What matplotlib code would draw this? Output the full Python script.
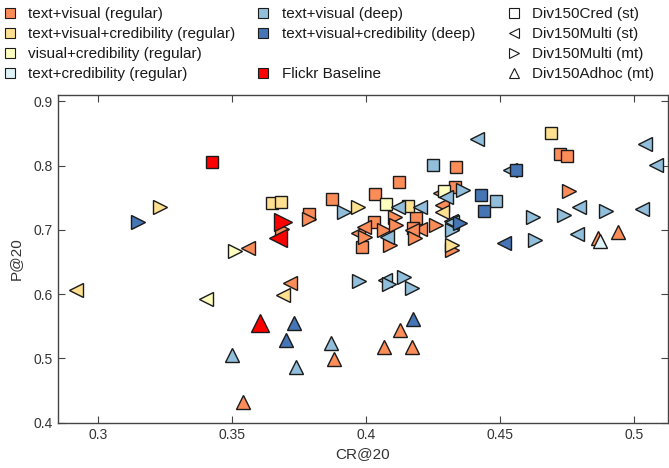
import matplotlib
matplotlib.use("Agg")
import matplotlib.pyplot as plt
from matplotlib.lines import Line2D

plt.rcParams['font.family'] = ['Liberation Sans', 'DejaVu Sans']

# ---- data: (CR@20, P@20, run marker) per configuration ----
# markers: 's' Div150Cred (st), '<' Div150Multi (st), '>' Div150Multi (mt), '^' Div150Adhoc (mt)
tv_reg_cr = [0.3786, 0.3872, 0.4033, 0.4123, 0.4030, 0.3985, 0.4187, 0.4176, 0.4334, 0.4330, 0.4725, 0.4748,
             0.3560, 0.3718, 0.4202, 0.4274, 0.4282, 0.3970, 0.3992, 0.4172,
             0.3685, 0.3786, 0.3996, 0.4067, 0.4090, 0.4108, 0.4112, 0.4184, 0.4259, 0.4322, 0.4755,
             0.3542, 0.3880, 0.4067, 0.4127, 0.4172, 0.4864, 0.4939]
tv_reg_p = [0.7246, 0.7479, 0.7557, 0.7743, 0.7121, 0.6733, 0.7183, 0.7028, 0.7977, 0.7665, 0.8178, 0.8148,
            0.6717, 0.6173, 0.7012, 0.7572, 0.7386, 0.6950, 0.7040, 0.6997,
            0.7012, 0.7168, 0.6888, 0.6997, 0.6764, 0.7199, 0.7075, 0.6873, 0.7075, 0.6686, 0.7603,
            0.4322, 0.4990, 0.5177, 0.5442, 0.5177, 0.6873, 0.6966]
tv_reg_run = ['s'] * 12 + ['<'] * 8 + ['>'] * 11 + ['^'] * 7

tvc_reg_cr = [0.3651, 0.3681, 0.4157, 0.4691, 0.2919, 0.3692, 0.4282, 0.3230, 0.3970, 0.4322]
tvc_reg_p = [0.7417, 0.7432, 0.7370, 0.8505, 0.6064, 0.5986, 0.7277, 0.7355, 0.7355, 0.6764]
tvc_reg_run = ['s', 's', 's', 's', '<', '<', '<', '>', '>', '>']

vc_reg_cr = [0.4075, 0.4289, 0.3403, 0.3512]
vc_reg_p = [0.7401, 0.7603, 0.5924, 0.6671]
vc_reg_run = ['s', 's', '<', '>']

tc_reg_cr = [0.4871]
tc_reg_p = [0.6826]
tc_reg_run = ['^']

tv_deep_cr = [0.4251, 0.4484,
              0.4071, 0.4413, 0.4537, 0.5040, 0.5081, 0.4793, 0.5029, 0.4785, 0.4120, 0.4202, 0.4078, 0.4300,
              0.4315, 0.4322,
              0.3917, 0.4322, 0.4360, 0.4142, 0.4172, 0.3973, 0.4086, 0.4623, 0.4630, 0.4739, 0.4894,
              0.3501, 0.3868, 0.3737]
tv_deep_p = [0.8008, 0.7448,
             0.6219, 0.8412, 0.7930, 0.8334, 0.8008, 0.7355, 0.7323, 0.6935, 0.7355, 0.7355, 0.6888, 0.7510,
             0.7137, 0.7120,
             0.7277, 0.6997, 0.7618, 0.6266, 0.6095, 0.6204, 0.6157, 0.7199, 0.6842, 0.7230, 0.7292,
             0.5050, 0.5240, 0.4866]
tv_deep_run = ['s'] * 2 + ['<'] * 14 + ['>'] * 11 + ['^'] * 3

tvc_deep_cr = [0.4428, 0.4439, 0.4560, 0.4514, 0.3148, 0.4352, 0.3733, 0.3700, 0.4176]
tvc_deep_p = [0.7541, 0.7292, 0.7930, 0.6795, 0.7121, 0.7106, 0.5550, 0.5284, 0.5613]
tvc_deep_run = ['s', 's', 's', '<', '>', '>', '^', '^', '^']

flickr_cr = [0.3425, 0.3673, 0.3692, 0.3606]
flickr_p = [0.8054, 0.6873, 0.7121, 0.5550]
flickr_run = ['s', '<', '>', '^']

x_ticks = [0.3, 0.35, 0.4, 0.45, 0.5]
x_ticklabels = ['0.3', '0.35', '0.4', '0.45', '0.5']
y_ticks = [0.4, 0.5, 0.6, 0.7, 0.8, 0.9]
y_ticklabels = ['0.4', '0.5', '0.6', '0.7', '0.8', '0.9']

series = [
    ('text+visual (regular)', '#FC8D59', tv_reg_cr, tv_reg_p, tv_reg_run, False),
    ('text+visual+credibility (regular)', '#FEE090', tvc_reg_cr, tvc_reg_p, tvc_reg_run, False),
    ('visual+credibility (regular)', '#FFFFBF', vc_reg_cr, vc_reg_p, vc_reg_run, False),
    ('text+credibility (regular)', '#E0F3F8', tc_reg_cr, tc_reg_p, tc_reg_run, False),
    ('text+visual (deep)', '#91BFDB', tv_deep_cr, tv_deep_p, tv_deep_run, False),
    ('text+visual+credibility (deep)', '#4575B4', tvc_deep_cr, tvc_deep_p, tvc_deep_run, False),
    ('Flickr Baseline', '#FF0000', flickr_cr, flickr_p, flickr_run, True),
]

msize = {'s': 8, '<': 10, '>': 10, '^': 10}
msize_big = {'s': 9, '<': 13, '>': 13, '^': 13}

fig = plt.figure(figsize=(6.69, 4.68), dpi=100)
ax = fig.add_axes([0.0862, 0.0968, 0.9123, 0.7002])

for name, col, xs, ys, runs, big in series:
    for x, y, m in zip(xs, ys, runs):
        s = msize_big[m] if big else msize[m]
        ax.plot([x], [y], linestyle='none', marker=m, markersize=s,
                markerfacecolor=col, markeredgecolor='#1a1a1a', markeredgewidth=1.0, zorder=3)

ax.set_xlim(0.285, 0.5126)
ax.set_ylim(0.4, 0.91)
ax.set_xticks(x_ticks)
ax.set_xticklabels(x_ticklabels)
ax.set_yticks(y_ticks)
ax.set_yticklabels(y_ticklabels)
ax.tick_params(direction='in', top=True, right=True, length=5, width=0.8,
               colors='#444444', labelsize=10, labelcolor='#333333')
for sp in ax.spines.values():
    sp.set_color('#444444')
    sp.set_linewidth(1.0)
ax.set_xlabel('CR@20', fontsize=11, color='#333333', labelpad=4)
ax.set_ylabel('P@20', fontsize=11, color='#333333', labelpad=8)

# ---- legends ----
def sq(col):
    return Line2D([], [], linestyle='none', marker='s', markersize=7,
                  markerfacecolor=col, markeredgecolor='#1a1a1a', markeredgewidth=0.8)

def shape(m):
    return Line2D([], [], linestyle='none', marker=m, markersize=7,
                  markerfacecolor='white', markeredgecolor='#1a1a1a', markeredgewidth=0.8)

blank = Line2D([], [], linestyle='none', marker=None)

col1_h = [sq(s[1]) for s in series[:4]]
col1_l = [s[0] for s in series[:4]]
col2_h = [sq(series[4][1]), sq(series[5][1]), blank, sq(series[6][1])]
col2_l = [series[4][0], series[5][0], '', series[6][0]]
col3_h = [shape('s'), shape('<'), shape('>'), shape('^')]
col3_l = ['Div150Cred (st)', 'Div150Multi (st)', 'Div150Multi (mt)', 'Div150Adhoc (mt)']

common = dict(loc='upper left', frameon=False, fontsize=11, handlelength=1.0,
              handletextpad=0.7, labelspacing=0.4, borderaxespad=0, borderpad=0)
for h, l, xpos in [(col1_h, col1_l, 0.0035), (col2_h, col2_l, 0.382), (col3_h, col3_l, 0.757)]:
    lg = fig.legend(h, l, bbox_to_anchor=(xpos, 0.985), **common)
    for t in lg.get_texts():
        t.set_color('#1a1a1a')

fig.savefig('out.png', dpi=100)
